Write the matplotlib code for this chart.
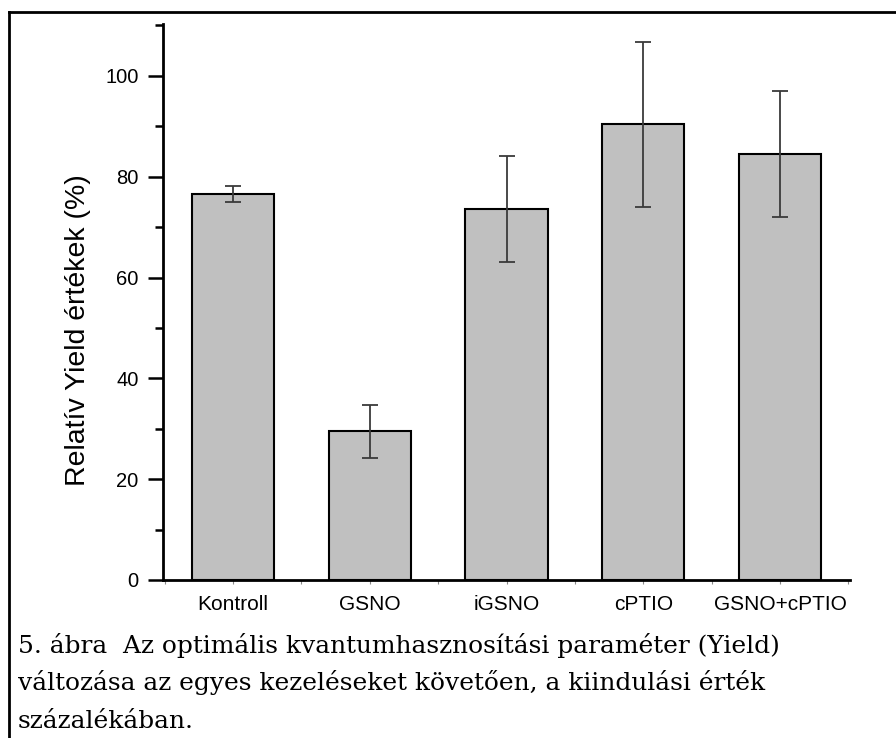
import matplotlib.pyplot as plt
from matplotlib.lines import Line2D
from matplotlib.ticker import MultipleLocator

# adatok
kezelesek = ['Kontroll', 'GSNO', 'iGSNO', 'cPTIO', 'GSNO+cPTIO']
yield_ertek = [76.5, 29.5, 73.6, 90.4, 84.5]
szoras = [1.6, 5.3, 10.6, 16.4, 12.5]

felirat = ['5. ábra  Az optimális kvantumhasznosítási paraméter (Yield)',
           'változása az egyes kezeléseket követően, a kiindulási érték',
           'százalékában.']

plt.rcParams['font.family'] = ['Liberation Sans', 'DejaVu Sans']

fig = plt.figure(figsize=(8.96, 7.38), dpi=100)
ax = fig.add_axes([0.1819, 0.2141, 0.7668, 0.7534])

x = list(range(1, len(kezelesek) + 1))
ax.bar(x, yield_ertek, width=0.6, color='#c0c0c0', edgecolor='black', linewidth=1.5, zorder=2)
ax.errorbar(x, yield_ertek, yerr=szoras, fmt='none', ecolor='#3a3a3a',
            elinewidth=1.3, capsize=6, capthick=1.3, zorder=3)

ax.set_xlim(0.488, 5.512)
ax.set_ylim(0, 110.3)
ax.set_xticks(x)
ax.set_xticklabels(kezelesek, fontsize=15)
ax.xaxis.set_minor_locator(MultipleLocator(1, offset=0.5))
ax.yaxis.set_major_locator(MultipleLocator(20))
ax.yaxis.set_minor_locator(MultipleLocator(10))

ax.spines['top'].set_visible(False)
ax.spines['right'].set_visible(False)
ax.spines['left'].set_linewidth(2)
ax.spines['bottom'].set_linewidth(2)

ax.tick_params(axis='y', which='major', length=11, width=1.8, labelsize=14.5, pad=6.5)
ax.tick_params(axis='y', which='minor', length=6, width=1.8)
ax.tick_params(axis='x', which='both', length=3, width=0.8, color='#888888', pad=8)

ax.set_ylabel('Relatív Yield értékek (%)', fontsize=20.5)
ax.yaxis.set_label_coords(-0.105, 0.45)

# keret a kép bal és felső szélén
fig.add_artist(Line2D([9 / 896, 1], [1 - 12 / 738, 1 - 12 / 738], color='black', linewidth=2))
fig.add_artist(Line2D([9 / 896, 9 / 896], [0, 1 - 12 / 738], color='black', linewidth=2))

for sor, y_px in zip(felirat, [653, 690, 728]):
    fig.text(18 / 896, 1 - y_px / 738, sor, family=['DejaVu Serif'],
             fontsize=17.9, va='baseline', ha='left')

plt.savefig('out.png', dpi=100)
